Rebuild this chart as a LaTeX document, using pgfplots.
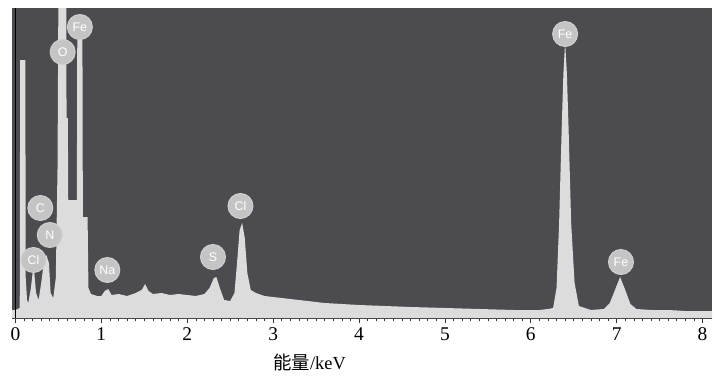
\documentclass[border=0pt]{standalone}
\usepackage{pgfplots}
\pgfplotsset{compat=1.18}
\usepackage{fontspec}
\setmainfont{Liberation Serif}
\newfontfamily\cjk{Noto Sans CJK SC}
\newfontfamily\lab{Liberation Sans}
\definecolor{bgdark}{HTML}{4B4B50}
\definecolor{spec}{HTML}{DCDCDC}
\definecolor{bub}{HTML}{C4C4C4}
\begin{document}
\begin{tikzpicture}[x=1bp,y=1bp]
\begin{axis}[
  scale only axis, width=700bp, height=310bp,
  xmin=-0.04, xmax=8.11, ymin=0, ymax=310,
  axis x line*=bottom, axis y line=none,
  axis background/.style={fill=bgdark},
  xtick={0,1,...,8}, minor x tick num=9,
  tick align=outside, major tick length=5bp, minor tick length=3bp,
  tick style={black!80, line width=0.6pt},
  x axis line style={black!80, line width=0.8pt, -},
  /pgf/number format/assume math mode=true,
  xticklabel style={font=\fontsize{19.5}{19.5}\selectfont, yshift=-1bp},
  xlabel={{\cjk 能量}/keV},
  xlabel style={font=\fontsize{18.5}{18.5}\selectfont, at={(axis description cs:0.425,0)}, anchor=north, yshift=-32bp},
  clip=true,
]
\addplot[fill=spec, draw=none] coordinates {
(-0.04,8) (0.0,8) (0.05,10) (0.055,258) (0.115,258) (0.12,40) (0.135,18) (0.15,15) (0.18,30) (0.20,45) (0.22,45) (0.24,25) (0.27,18)
(0.30,35) (0.33,55) (0.36,63) (0.39,55) (0.41,25) (0.44,20) (0.47,40) (0.49,150) (0.505,400) (0.59,400) (0.595,200) (0.61,200)
(0.615,118) (0.715,118) (0.72,280) (0.78,280) (0.785,101) (0.84,101) (0.85,30) (0.88,24) (0.95,22)
(1.0,22) (1.04,27) (1.08,29) (1.12,23) (1.2,24) (1.3,22) (1.4,25) (1.47,28) (1.51,34) (1.55,27) (1.6,24) (1.7,25) (1.8,23)
(1.9,24) (2.0,23) (2.1,22) (2.2,24) (2.26,30) (2.31,40) (2.34,41) (2.38,30) (2.43,18) (2.5,17) (2.55,25) (2.58,55) (2.61,88)
(2.64,95) (2.67,80) (2.70,45) (2.74,28) (2.8,25) (2.9,22) (3.0,21) (3.2,19) (3.4,17) (3.6,15) (3.8,14) (4.0,13) (4.3,12)
(4.6,11) (5.0,10) (5.4,9) (5.8,8) (6.1,8) (6.2,9) (6.26,10) (6.30,30) (6.33,95) (6.36,190) (6.38,245) (6.40,276) (6.42,245)
(6.44,190) (6.47,95) (6.51,35) (6.56,12) (6.7,8) (6.85,9) (6.92,15) (6.98,28) (7.04,41) (7.10,28) (7.16,14) (7.23,9)
(7.4,8) (7.6,8) (7.8,7) (8.0,7) (8.11,7)
} \closedcycle;
\draw[black, line width=1.6pt] (axis cs:0,0) -- (axis cs:0,310);
\tikzset{peak/.style={circle, fill=bub, draw=bub!80!white, line width=1pt, inner sep=0pt, minimum size=25bp, text=white, font=\lab\fontsize{12.5}{12.5}\selectfont}}
\node[peak] at (axis cs:0.75,291) {Fe};
\node[peak] at (axis cs:0.55,266) {O};
\node[peak] at (axis cs:0.29,110) {C};
\node[peak] at (axis cs:0.40,83) {N};
\node[peak] at (axis cs:0.21,58) {Cl};
\node[peak] at (axis cs:1.07,48) {Na};
\node[peak] at (axis cs:2.30,61) {S};
\node[peak] at (axis cs:2.62,112) {Cl};
\node[peak] at (axis cs:6.40,284) {Fe};
\node[peak] at (axis cs:7.05,56) {Fe};
\node[text=black!70, font=\cjk\fontsize{11}{11}\selectfont, anchor=north east] at (axis description cs:0.998,0.985) {谱图4};
\end{axis}
\path (current axis.south west) ++(-12bp,-61bp) rectangle ([shift={(2bp,8bp)}]current axis.north east);
\end{tikzpicture}
\end{document}
